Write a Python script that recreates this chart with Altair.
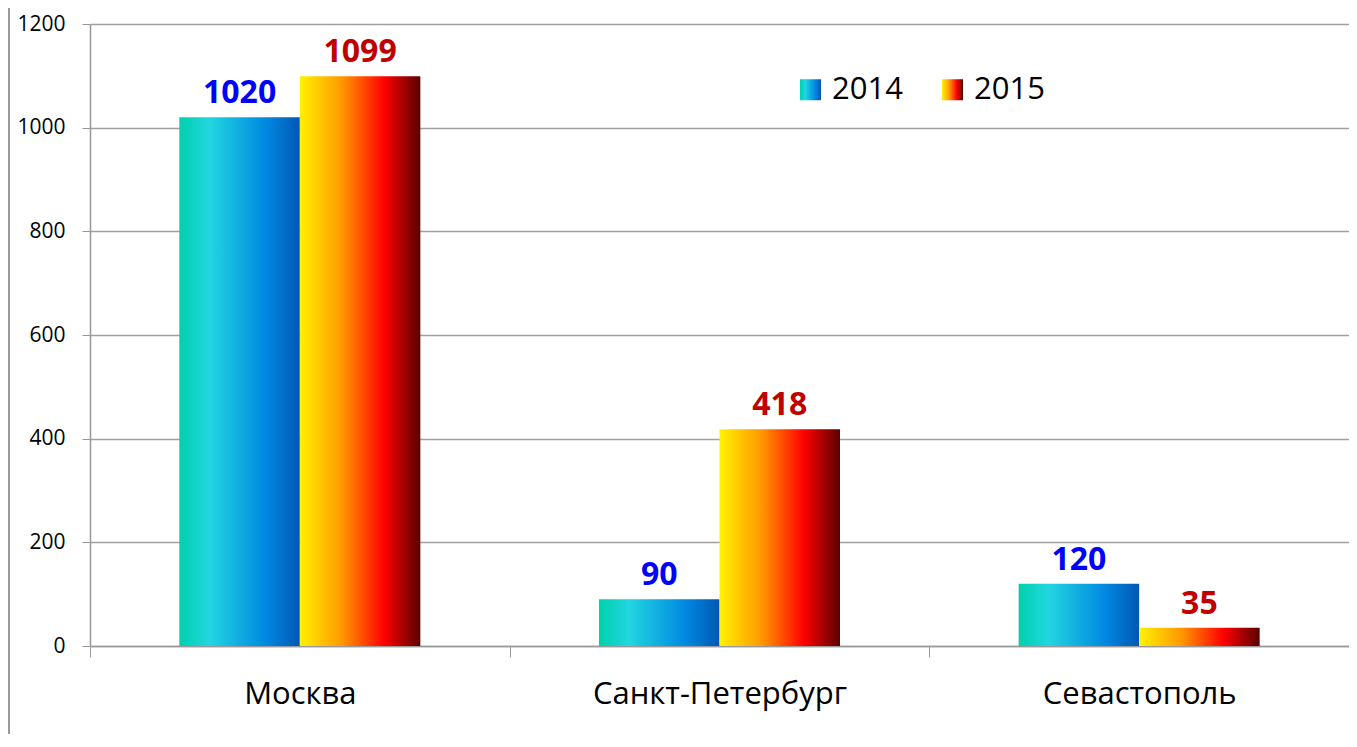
import altair as alt
import pandas as pd

cities = ["Москва", "Санкт-Петербург", "Севастополь"]
years = ["2014", "2015"]
values_2014 = [1020, 90, 120]
values_2015 = [1099, 418, 35]

rows = []
for c, a, b in zip(cities, values_2014, values_2015):
    rows.append({"city": c, "year": "2014", "value": a})
    rows.append({"city": c, "year": "2015", "value": b})
df = pd.DataFrame(rows)

g2014 = ("{gradient:'linear',x1:0,y1:0,x2:1,y2:0,stops:["
         "{offset:0,color:'#00d0ac'},{offset:0.25,color:'#22d6e0'},"
         "{offset:0.72,color:'#0088e2'},{offset:1,color:'#0058b4'}]}")
g2015 = ("{gradient:'linear',x1:0,y1:0,x2:1,y2:0,stops:["
         "{offset:0,color:'#fff200'},{offset:0.35,color:'#ff9800'},"
         "{offset:0.7,color:'#ff0000'},{offset:1,color:'#5a0000'}]}")

FONT = "Open Sans"

x_enc = alt.X("city:N", sort=cities, title=None,
              scale=alt.Scale(paddingInner=0, paddingOuter=0),
              axis=alt.Axis(labelAngle=0, labelFontSize=31, labelFont=FONT,
                            labelColor="#000000", labelPadding=22, labelLimit=0,
                            tickBand="extent", tickSize=11, tickColor="#999999",
                            domainColor="#999999", domainWidth=1.5, grid=False))
xo_enc = alt.XOffset("year:N", sort=years,
                     scale=alt.Scale(paddingInner=0, paddingOuter=0.7414))
y_enc = alt.Y("value:Q", title=None,
              scale=alt.Scale(domain=[0, 1200], nice=False),
              axis=alt.Axis(values=[0, 200, 400, 600, 800, 1000, 1200], format="d",
                            labelFontSize=21, labelFont=FONT, labelColor="#000000",
                            labelPadding=17, tickSize=8, tickColor="#999999",
                            domainColor="#999999", domainWidth=1.5,
                            gridColor="#a0a0a0", gridWidth=1.5))

bars = alt.Chart(df).mark_bar().encode(
    x=x_enc, xOffset=xo_enc, y=y_enc,
    color=alt.Color("year:N", sort=years,
                    scale=alt.Scale(domain=years,
                                    range=[alt.ExprRef(expr=g2014), alt.ExprRef(expr=g2015)]),
                    legend=alt.Legend(title=None, orient="none", legendX=705, legendY=50,
                                      direction="horizontal", symbolType="square",
                                      symbolSize=441, symbolStrokeWidth=0,
                                      labelFontSize=31, labelFont=FONT,
                                      labelColor="#000000", columnPadding=34,
                                      labelOffset=6)),
)

labels = alt.Chart(df).mark_text(
    dy=-24, fontSize=32, fontWeight="bold", font=FONT
).encode(
    x=alt.X("city:N", sort=cities), xOffset=alt.XOffset("year:N", sort=years),
    y="value:Q", text="value:Q",
    color=alt.condition(alt.datum.year == "2014", alt.value("#0000ff"), alt.value("#c00000")),
)

border = alt.Chart(df).mark_rule(color="#999999", strokeWidth=2).encode(
    x=alt.value(-81), y=alt.value(-16), y2=alt.value(740))

chart = alt.layer(bars, labels, border).properties(
    width=1259, height=622,
    autosize=alt.AutoSizeParams(type="none"),
    padding={"left": 82, "top": 16, "right": 0, "bottom": 88},
).configure_view(stroke=None).resolve_scale(color="independent")

chart.save("out.html", embed_options={"renderer": "svg", "actions": False})
